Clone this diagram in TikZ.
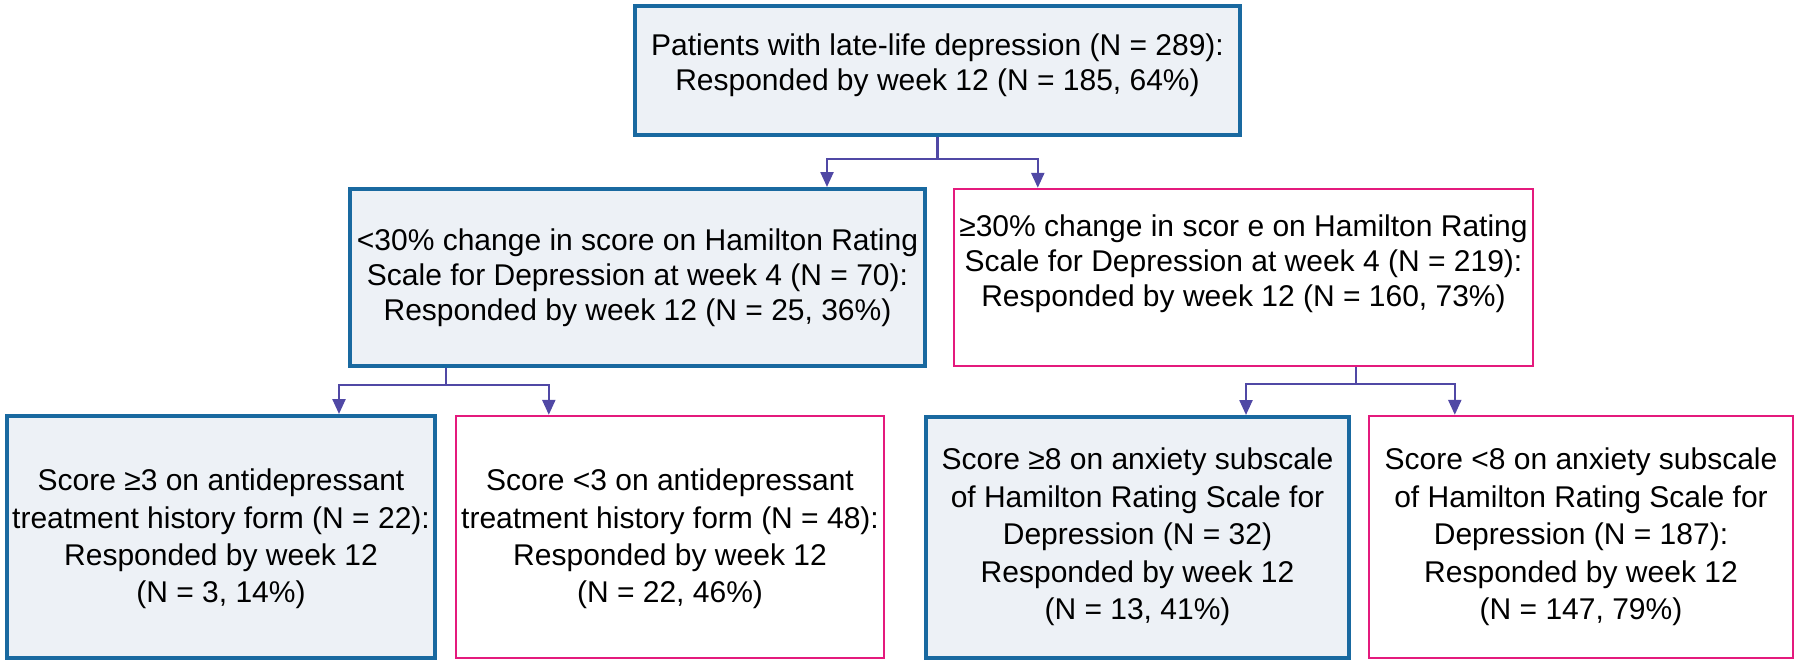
\documentclass[tikz,border=0pt]{standalone}
\usepackage{fontspec}
\setmainfont{Liberation Sans}
\usetikzlibrary{arrows.meta,calc}
\definecolor{bblue}{RGB}{25,105,160}
\definecolor{bfill}{RGB}{237,241,246}
\definecolor{bpink}{RGB}{228,26,125}
\definecolor{cline}{RGB}{80,72,165}
\begin{document}
\begin{tikzpicture}[x=0.5pt,y=-0.5pt,
  bluebox/.style 2 args={draw=bblue, fill=bfill, line width=2pt, inner sep=0pt, minimum width=#1*0.5pt, minimum height=#2*0.5pt},
  pinkbox/.style 2 args={draw=bpink, fill=white, line width=1.2pt, inner sep=0pt, minimum width=#1*0.5pt, minimum height=#2*0.5pt},
  txt/.style={align=center, inner sep=0pt, font=\fontsize{15pt}{17.6pt}\selectfont},
  btxt/.style={align=center, inner sep=0pt, font=\fontsize{15pt}{18.7pt}\selectfont},
  connline/.style={draw=cline, line width=1.2pt},
  arrline/.style={draw=cline, line width=1.2pt, -{Triangle[width=6.5pt,length=7.5pt]}}]
\useasboundingbox (0,0) rectangle (1800,665);
% boxes
\node[bluebox={605}{129}] (top) at (937.5,70.5) {};
\node[bluebox={575}{177}] (ml) at (637.5,277.5) {};
\node[pinkbox={579}{177}] (mr) at (1243.5,277.5) {};
\node[bluebox={428}{242}] (b1) at (221,537) {};
\node[pinkbox={428}{242}] (b2) at (670,537) {};
\node[bluebox={423}{241}] (b3) at (1137.5,537.5) {};
\node[pinkbox={424}{242}] (b4) at (1581,537) {};
% texts
\node[txt] (ttop) at (937.5,65) {Patients with late-life depression (N = 289):\\Responded by week 12 (N = 185, 64\%)};
\node[txt] (tml) at (637.5,278) {<30\% change in score on Hamilton Rating\\Scale for Depression at week 4 (N = 70):\\Responded by week 12 (N = 25, 36\%)};
\node[txt] (tmr) at (1243.5,264) {≥30\% change in scor e on Hamilton Rating\\Scale for Depression at week 4 (N = 219):\\Responded by week 12 (N = 160, 73\%)};
\node[btxt] (tb1) at (221,539) {Score ≥3 on antidepressant\\treatment history form (N = 22):\\Responded by week 12\\(N = 3, 14\%)};
\node[btxt] (tb2) at (670,539) {Score <3 on antidepressant\\treatment history form (N = 48):\\Responded by week 12\\(N = 22, 46\%)};
\node[btxt] (tb3) at (1137.5,537) {Score ≥8 on anxiety subscale\\of Hamilton Rating Scale for\\Depression (N = 32)\\Responded by week 12\\(N = 13, 41\%)};
\node[btxt] (tb4) at (1581,537) {Score <8 on anxiety subscale\\of Hamilton Rating Scale for\\Depression (N = 187):\\Responded by week 12\\(N = 147, 79\%)};
% connector points
\coordinate (ml-in) at ($(ml.north west)+(479,0)$);
\coordinate (mr-in) at ($(mr.north west)+(85,0)$);
\coordinate (ml-out) at ($(ml.south west)+(98,0)$);
\coordinate (mr-out) at ($(mr.south west)+(403,0)$);
\coordinate (b1-in) at ($(b1.north west)+(334,0)$);
\coordinate (b2-in) at ($(b2.north west)+(94,0)$);
\coordinate (b3-in) at ($(b3.north west)+(322,0)$);
\coordinate (b4-in) at ($(b4.north west)+(87,0)$);
% connectors
\draw[connline] (top.south) -- ++(0,22) coordinate (j1);
\draw[arrline] (j1) -| (ml-in);
\draw[arrline] (j1) -| (mr-in);
\draw[connline] (ml-out) -- ++(0,17) coordinate (j2);
\draw[arrline] (j2) -| (b1-in);
\draw[arrline] (j2) -| (b2-in);
\draw[connline] (mr-out) -- ++(0,17) coordinate (j3);
\draw[arrline] (j3) -| (b3-in);
\draw[arrline] (j3) -| (b4-in);
\end{tikzpicture}
\end{document}
